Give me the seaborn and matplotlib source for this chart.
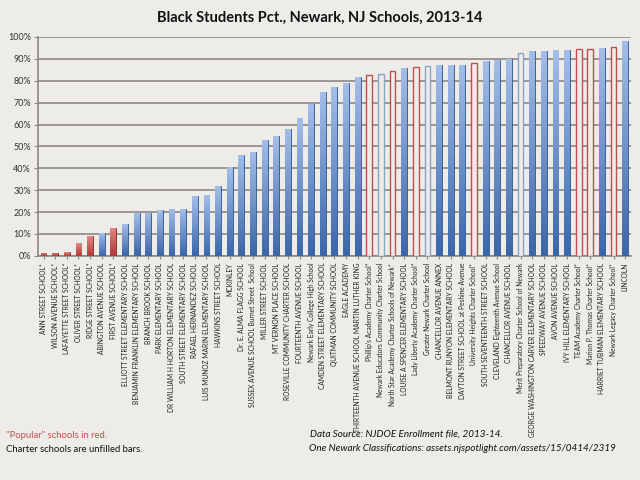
import numpy as np
import pandas as pd
import matplotlib
matplotlib.use('Agg')
import matplotlib.pyplot as plt
import seaborn as sns
from matplotlib.colors import LinearSegmentedColormap

schools = [
    "ANN STREET SCHOOL*", "WILSON AVENUE SCHOOL*", "LAFAYETTE STREET SCHOOL*",
    "OLIVER STREET SCHOOL*", "RIDGE STREET SCHOOL*", "ABINGTON AVENUE SCHOOL",
    "FIRST AVENUE SCHOOL*", "ELLIOTT STREET ELEMENTARY SCHOOL",
    "BENJAMIN FRANKLIN ELEMENTARY SCHOOL", "BRANCH BROOK SCHOOL",
    "PARK ELEMENTARY SCHOOL", "DR WILLIAM H HORTON ELEMENTARY SCHOOL",
    "SOUTH STREET ELEMENTARY SCHOOL", "RAFAEL HERNANDEZ SCHOOL",
    "LUIS MUNOZ MARIN ELEMENTARY SCHOOL", "HAWKINS STREET SCHOOL", "MCKINLEY",
    "Dr. E. ALMA FLAGG SCHOOL", "SUSSEX AVENUE SCHOOL Burnet Street  School",
    "MILLER STREET SCHOOL", "MT VERNON PLACE SCHOOL",
    "ROSEVILLE COMMUNITY CHARTER SCHOOL", "FOURTEENTH AVENUE SCHOOL",
    "Newark Early College High School", "CAMDEN STREET ELEMENTARY SCHOOL",
    "QUITMAN COMMUNITY SCHOOL", "EAGLE ACADEMY",
    "THIRTEENTH AVENUE SCHOOL MARTIN LUTHER KING",
    "Phillip's Academy Charter School*", "Newark Educators Community Charter School",
    "North Star Academy Charter Schools of Newark*", "LOUISE A SPENCER ELEMENTARY SCHOOL",
    "Lady Liberty Academy Charter School*", "Greater Newark Charter School",
    "CHANCELLOR AVENUE ANNEX", "BELMONT RUNYON ELEMENTARY SCHOOL",
    "DAYTON STREET SCHOOL at Peshine Avenue", "University Heights Charter School*",
    "SOUTH SEVENTEENTH STREET SCHOOL", "CLEVELAND Eighteenth Avenue School",
    "CHANCELLOR AVENUE SCHOOL", "Merit Preparatory Charter School of Newark",
    "GEORGE WASHINGTON CARVER ELEMENTARY SCHOOL", "SPEEDWAY AVENUE SCHOOL",
    "AVON AVENUE SCHOOL", "IVY HILL ELEMENTARY SCHOOL",
    "TEAM Academy Charter School*", "Marion P. Thomas Charter School*",
    "HARRIET TUBMAN ELEMENTARY SCHOOL", "Newark Legacy Charter School*", "LINCOLN",
]
black_pct = [
    1.5, 1.5, 1.8, 5.7, 8.9, 10.4, 12.6, 14.4, 19.4, 19.8,
    20.8, 21.6, 21.6, 27.4, 27.7, 31.7, 40.6, 45.9, 47.6, 53.1,
    54.8, 57.9, 62.9, 69.5, 75.0, 77.0, 79.0, 81.6, 82.5, 83.3,
    84.5, 85.9, 86.4, 86.8, 87.3, 87.3, 87.4, 87.9, 89.0, 89.6,
    90.0, 92.9, 93.7, 93.7, 93.9, 94.0, 94.3, 94.5, 95.1, 95.3, 98.2,
]
# popular = red, charter = unfilled
popular = [1, 1, 1, 1, 1, 0, 1] + [0] * 21 + [1, 0, 1, 0, 1, 0, 0, 0, 0, 1,
           0, 0, 0, 0, 0, 0, 0, 0, 1, 1, 0, 1, 0]
charter = [0] * 28 + [1, 1, 1, 0, 1, 1, 0, 0, 0, 1,
           0, 0, 0, 1, 0, 0, 0, 0, 1, 1, 0, 1, 0]

bg = "#eeece9"
blue = "#4f81bd"
red = "#c0504d"

df = pd.DataFrame({"school": schools, "pct": black_pct})

plt.rcParams['font.family'] = ['Lato', 'DejaVu Sans']
fig = plt.figure(figsize=(6.4, 4.8), dpi=100, facecolor=bg)
ax = fig.add_axes([0.059, 0.467, 0.927, 0.456])
ax.set_facecolor(bg)

sns.barplot(data=df, x="school", y="pct", color=blue, width=0.5, ax=ax,
            saturation=1, zorder=3)

blue_cm = LinearSegmentedColormap.from_list("b", ["#3a66aa", "#a3bee8"])
red_cm = LinearSegmentedColormap.from_list("r", ["#b43835", "#e48683"])
grad = np.linspace(0, 1, 100).reshape(-1, 1)

for i, p in enumerate(ax.patches):
    col = red if popular[i] else blue
    if charter[i]:
        p.set_facecolor(bg)
        p.set_edgecolor(red if popular[i] else "#8aa2c8")
        p.set_linewidth(1.0)
    else:
        p.set_facecolor(col)
        p.set_edgecolor("#7a2a28" if popular[i] else "#2f5890")
        p.set_linewidth(0.6)
        x0, w, h = p.get_x(), p.get_width(), p.get_height()
        im = ax.imshow(grad, extent=[x0, x0 + w, 0, h], origin="lower",
                       aspect="auto", cmap=red_cm if popular[i] else blue_cm,
                       zorder=3.5)
        im.set_clip_path(p)

ax.set_xlim(-0.5, len(schools) - 0.5)
ax.set_ylim(0, 100)
ax.set_yticks(range(0, 101, 10))
ax.set_yticklabels([f"{v}%" for v in range(0, 101, 10)], fontsize=6.5, color="#333333")
ax.set_axisbelow(True)
ax.yaxis.grid(True, color="#8c8886", linewidth=1.2)
ax.set_xticks(range(len(schools)))
ax.set_xticklabels(schools, rotation=90, fontsize=4.8, color="#222222",
                   family=['Liberation Sans Narrow', 'Lato', 'DejaVu Sans'])
ax.tick_params(axis="y", length=3, color="#8c8886", pad=2)
ax.tick_params(axis="x", length=2, color="#8c8886", pad=3)
ax.set_xlabel("")
ax.set_ylabel("")
for s in ["top", "right"]:
    ax.spines[s].set_visible(False)
for s in ["left", "bottom"]:
    ax.spines[s].set_color("#8c8886")
    ax.spines[s].set_linewidth(1.2)

fig.text(0.5, 0.962, "Black Students Pct., Newark, NJ Schools, 2013-14",
         ha="center", va="center", fontsize=10.5, fontweight="bold", color="#111111")
fig.text(0.01, 0.093, '"Popular" schools in red.', fontsize=6.8, color=red, va="center")
fig.text(0.01, 0.064, "Charter schools are unfilled bars.", fontsize=6.8,
         color="#111111", va="center")
fig.text(0.485, 0.095, "Data Source: NJDOE Enrollment file, 2013-14.", fontsize=7.1,
         style="italic", color="#111111", va="center")
fig.text(0.483, 0.066, "One Newark Classifications: assets.njspotlight.com/assets/15/0414/2319",
         fontsize=7.1, style="italic", color="#111111", va="center")

fig.savefig("out.png", dpi=100, facecolor=bg)
